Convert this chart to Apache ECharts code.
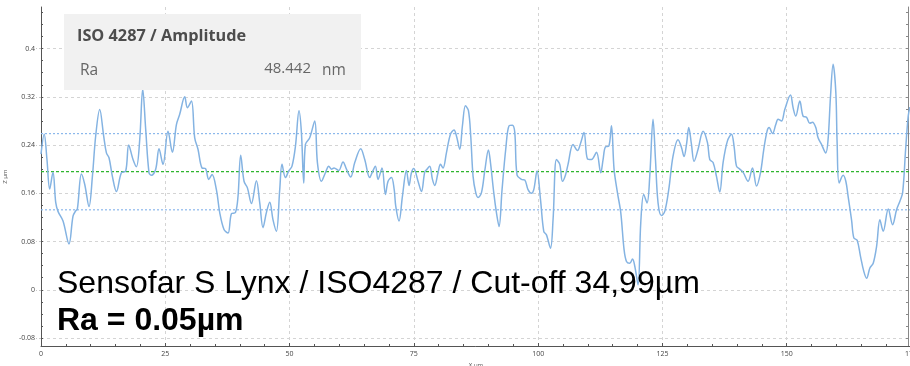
<!DOCTYPE html>
<html>
<head>
<meta charset="utf-8">
<script src="https://cdn.jsdelivr.net/npm/echarts@6/dist/echarts.min.js"></script>
<style>html,body{margin:0;padding:0;background:#fff}#c{width:910px;height:366px}</style>
</head>
<body>
<div id="c"></div>
<script>
// X positions (µm)
const xPos = [0,0.64,1.2,1.75,2.41,2.96,3.42,4.43,5.63,6.44,6.98,7.32,8.13,8.79,9.66,10.34,11.0,11.81,12.61,13.16,13.68,14.36,15.17,16.17,17.04,17.64,18.51,19.19,19.86,20.46,21.06,21.73,22.21,23.07,23.74,24.54,25.55,26.43,27.24,27.90,28.91,29.45,30.26,30.92,31.58,32.39,33.07,33.74,34.40,35.28,35.95,36.81,37.62,38.30,39.11,39.63,40.17,40.84,41.52,42.33,43.33,44.0,44.66,45.34,46.01,46.67,47.35,48.02,48.48,49.17,49.83,50.49,51.18,51.90,52.38,52.85,53.19,54.05,55.06,55.60,56.41,57.21,57.88,58.42,58.94,59.89,60.75,61.44,62.30,63.11,64.31,65.12,66.12,66.59,67.27,67.79,68.60,69.28,69.81,70.49,71.05,71.35,72.02,72.70,73.51,74.03,74.51,74.98,75.84,76.53,77.19,77.65,78.19,78.74,79.20,79.86,80.35,80.87,81.55,82.36,83.08,83.57,84.23,84.77,85.38,85.98,86.44,86.91,87.45,87.91,88.60,89.26,90.0,90.41,91.07,91.61,92.14,92.74,93.48,94.15,94.83,95.30,95.76,96.64,97.31,97.97,98.65,99.12,99.78,100.47,101.13,101.67,102.48,103.0,103.68,104.35,104.89,105.49,106.01,107.02,107.91,108.57,109.23,109.92,110.72,111.73,112.59,113.06,113.54,114.20,114.75,115.27,115.95,116.62,117.28,117.77,118.43,118.98,119.44,120.10,120.64,121.24,121.91,122.45,123.11,123.60,124.12,124.80,125.47,126.27,127.14,128.14,128.83,129.35,129.84,130.30,130.84,131.36,132.17,133.17,134.06,134.52,135.19,135.87,136.53,137.20,138.08,138.89,139.41,139.90,140.56,141.22,142.23,143.11,143.92,144.72,145.39,146.05,146.46,147.14,147.80,148.26,148.95,149.61,150.76,151.28,151.82,152.63,153.29,153.98,154.64,155.19,155.85,156.31,157.0,157.86,158.32,158.81,159.33,159.88,160.14,160.54,161.35,161.89,162.35,163.04,163.50,164.17,164.85,165.52,166.07,166.73,167.40,168.08,168.74,169.41,170.42,171.30,172.11,172.77,173.32,173.92,174.44,174.78];
// Z heights (µm)
const zVal = [0.225,0.258,0.216,0.167,0.195,0.145,0.130,0.114,0.076,0.122,0.131,0.134,0.192,0.175,0.138,0.188,0.255,0.299,0.255,0.227,0.219,0.188,0.163,0.194,0.197,0.240,0.216,0.204,0.249,0.333,0.266,0.194,0.190,0.200,0.234,0.208,0.263,0.228,0.274,0.291,0.320,0.302,0.313,0.252,0.233,0.202,0.201,0.183,0.191,0.166,0.128,0.100,0.094,0.126,0.128,0.155,0.223,0.180,0.169,0.143,0.181,0.144,0.103,0.128,0.145,0.116,0.097,0.166,0.208,0.186,0.197,0.205,0.238,0.297,0.261,0.177,0.241,0.252,0.280,0.211,0.180,0.194,0.205,0.200,0.202,0.198,0.212,0.200,0.187,0.211,0.234,0.216,0.186,0.194,0.205,0.183,0.202,0.158,0.180,0.186,0.166,0.139,0.114,0.155,0.198,0.173,0.194,0.201,0.180,0.163,0.195,0.200,0.205,0.183,0.173,0.194,0.208,0.202,0.227,0.258,0.265,0.255,0.233,0.272,0.305,0.297,0.255,0.188,0.161,0.153,0.161,0.197,0.232,0.211,0.161,0.128,0.105,0.166,0.233,0.272,0.273,0.261,0.190,0.183,0.182,0.166,0.160,0.166,0.197,0.150,0.097,0.091,0.069,0.116,0.216,0.208,0.180,0.190,0.208,0.241,0.231,0.244,0.261,0.217,0.216,0.228,0.194,0.216,0.237,0.238,0.272,0.200,0.161,0.128,0.067,0.047,0.044,0.051,0.039,0.008,0.111,0.158,0.144,0.188,0.283,0.216,0.144,0.123,0.130,0.166,0.222,0.249,0.236,0.221,0.241,0.269,0.241,0.213,0.233,0.263,0.244,0.216,0.211,0.188,0.162,0.211,0.247,0.258,0.238,0.205,0.200,0.195,0.180,0.202,0.172,0.194,0.233,0.263,0.269,0.259,0.274,0.283,0.280,0.299,0.323,0.302,0.288,0.313,0.288,0.286,0.276,0.278,0.269,0.252,0.241,0.227,0.249,0.321,0.374,0.327,0.244,0.177,0.190,0.180,0.155,0.116,0.086,0.082,0.055,0.030,0.019,0.036,0.044,0.072,0.116,0.097,0.134,0.108,0.133,0.147,0.161,0.233,0.288,0.303];
// Tick values
const yMajorTicks = [-0.08,0,0.08,0.16,0.24,0.32,0.4];
const yMinorTicks = [-0.08,-0.06,-0.04,-0.02,0,0.02,0.04,0.06,0.08,0.1,0.12,0.14,0.16,0.18,0.2,0.22,0.24,0.26,0.28,0.3,0.32,0.34,0.36,0.38,0.4,0.42,0.44,0.46];
// Reference levels
const meanLine = 0.1958;
const bandLines = [0.259, 0.1326];
const xSpan = [0, 175];
// Annotation texts
const boxTitle = 'ISO 4287 / Amplitude';
const boxParam = 'Ra';
const boxValue = '48.442';
const boxUnit = 'nm';
const overlay1 = 'Sensofar S Lynx / ISO4287 / Cut-off 34,99µm';
const overlay2 = 'Ra = 0.05µm';

const yMin = -0.0933, yMax = 0.469;
const data = xPos.map((x, i) => [x, zVal[i]]);
const hLine = v => xSpan.map(x => [x, v]);

const chart = echarts.init(document.getElementById('c'));
const axisCol = '#555';
const labelStyle = { fontSize: 7, color: '#444', fontFamily: 'Open Sans' };
const refSeries = (v, color, dash) => ({
  type: 'line', data: hLine(v), symbol: 'none', silent: true, z: 2,
  lineStyle: { color: color, width: 1.2, type: dash }
});
chart.setOption({
  animation: false,
  grid: { left: 41, right: -1, top: 7, bottom: 20, outerBoundsMode: 'none', containLabel: false },
  xAxis: {
    type: 'value', min: 0, max: 175, interval: 25,
    name: 'X µm', nameLocation: 'middle', nameGap: 14,
    nameTextStyle: { fontSize: 6, color: '#555', fontFamily: 'Open Sans' },
    axisLine: { onZero: false, lineStyle: { color: axisCol, width: 1 } },
    axisTick: { inside: true, length: 3, lineStyle: { color: axisCol } },
    minorTick: { show: true, splitNumber: 5, length: 2, lineStyle: { color: axisCol } },
    axisLabel: Object.assign({ margin: 4, showMaxLabel: true }, labelStyle),
    splitLine: { show: true, lineStyle: { color: '#d4d4d4', type: [3, 3] } }
  },
  yAxis: [{
    type: 'value', min: yMin, max: yMax,
    name: 'Z µm', nameLocation: 'middle', nameGap: 26, nameRotate: 90,
    nameTextStyle: { fontSize: 6, color: '#555', fontFamily: 'Open Sans' },
    axisLine: { show: true, onZero: false, lineStyle: { color: axisCol, width: 1 } },
    axisTick: { show: true, customValues: yMajorTicks, length: 5, lineStyle: { color: '#c8c8c8', type: [2, 2] } },
    axisLabel: Object.assign({ customValues: yMajorTicks, margin: 6, formatter: v => String(Math.round(v * 100) / 100) }, labelStyle),
    splitLine: { show: true, lineStyle: { color: '#d4d4d4', type: [3, 3] } }
  }, {
    type: 'value', min: yMin, max: yMax, position: 'left',
    axisLine: { show: false, onZero: false },
    axisTick: { show: true, inside: true, customValues: yMinorTicks, length: 2, lineStyle: { color: axisCol } },
    axisLabel: { show: false },
    splitLine: { show: false }
  }, {
    type: 'value', min: yMin, max: yMax, position: 'right', offset: -3,
    axisLine: { show: true, onZero: false, lineStyle: { color: '#888', width: 1 } },
    axisTick: { show: true, inside: true, customValues: yMinorTicks, length: 2, lineStyle: { color: '#888' } },
    axisLabel: { show: false },
    splitLine: { show: false }
  }],
  series: [
    refSeries(bandLines[0], '#8cb8ec', [2, 2]),
    refSeries(bandLines[1], '#8cb8ec', [2, 2]),
    refSeries(meanLine, '#2fb52f', [3, 2]),
    {
      type: 'line', data: data, smooth: 0.35, symbol: 'none', z: 3,
      lineStyle: { color: '#84b3e2', width: 1.5 }
    }
  ],
  graphic: [
    { type: 'rect', z: 50, shape: { x: 64, y: 14, width: 297, height: 76 }, style: { fill: '#f1f1f1' } },
    { type: 'text', z: 51, style: { x: 77, y: 36, text: boxTitle, font: 'bold 16.3px "Open Sans"', fill: '#4d4d4d', verticalAlign: 'middle' } },
    { type: 'text', z: 51, style: { x: 80, y: 71, text: boxParam, font: '15.5px "Open Sans"', fill: '#666', verticalAlign: 'middle' } },
    { type: 'text', z: 51, style: { x: 311, y: 69, text: boxValue, font: '15px "Open Sans"', fill: '#666', align: 'right', verticalAlign: 'middle' } },
    { type: 'text', z: 51, style: { x: 322, y: 71, text: boxUnit, font: '15.5px "Open Sans"', fill: '#666', verticalAlign: 'middle' } },
    { type: 'text', z: 60, style: { x: 57, y: 284, text: overlay1, font: '32px "Liberation Sans"', fill: '#000', verticalAlign: 'middle' } },
    { type: 'text', z: 60, style: { x: 57, y: 321, text: overlay2, font: 'bold 32px "Liberation Sans"', fill: '#000', verticalAlign: 'middle' } }
  ]
});
</script>
</body>
</html>
